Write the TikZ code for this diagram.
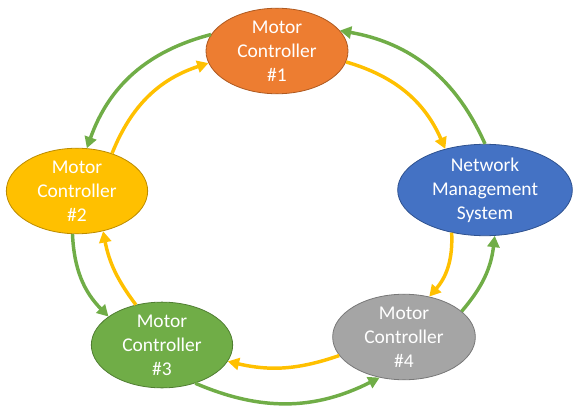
\documentclass[tikz,border=0pt]{standalone}
\usepackage{fontspec}
\setmainfont{Carlito}
\usetikzlibrary{shapes.geometric,arrows.meta}
\definecolor{cOrange}{HTML}{ED7D31}
\definecolor{cOrangeB}{HTML}{AE5A21}
\definecolor{cYellow}{HTML}{FFC000}
\definecolor{cYellowB}{HTML}{BC8C00}
\definecolor{cBlue}{HTML}{4472C4}
\definecolor{cBlueB}{HTML}{2F528F}
\definecolor{cGreen}{HTML}{70AD47}
\definecolor{cGreenB}{HTML}{507E32}
\definecolor{cGray}{HTML}{A5A5A5}
\definecolor{cGrayB}{HTML}{787878}
\tikzset{
  unit/.style={ellipse, draw, line width=0.6pt, inner sep=0pt, minimum height=57pt,
    text=white, align=center, font=\fontsize{14.6}{18}\selectfont},
  garrow/.style={draw=cGreen, line width=2.6pt, -{Triangle[length=8.5pt,width=9pt]}},
  yarrow/.style={draw=cYellow, line width=2.6pt, -{Triangle[length=8.5pt,width=9pt]}},
}
\begin{document}
\begin{tikzpicture}[x=0.75pt,y=-0.75pt]
\useasboundingbox (0,0) rectangle (585,417);
\node[unit, fill=cOrange, draw=cOrangeB, minimum width=106.5pt] (mc1) at (277,51) {Motor\\Controller\\\#1};
\node[unit, fill=cYellow, draw=cYellowB, minimum width=106pt] (mc2) at (77,191) {Motor\\Controller\\\#2};
\node[unit, fill=cBlue, draw=cBlueB, minimum width=131pt] (nms) at (485,190) {Network\\Management\\System};
\node[unit, fill=cGreen, draw=cGreenB, minimum width=106pt] (mc3) at (162,345) {Motor\\Controller\\\#3};
\node[unit, fill=cGray, draw=cGrayB, minimum width=107pt] (mc4) at (404,337) {Motor\\Controller\\\#4};

\draw[garrow] (mc1.166) to[bend right=28] (mc2.77);
\draw[yarrow] (mc2.47) to[bend left=25] (mc1.190);
\draw[yarrow] (mc1.351) to[bend left=25] (nms.134);
\draw[garrow] (nms.90) to[bend right=28] (mc1.18);
\draw[yarrow] (nms.232) to[bend left=22] (mc4.58);
\draw[garrow] (mc4.24) to[bend right=17] (nms.282);
\draw[yarrow] (mc4.196) to[bend left=16] (mc3.346);
\draw[garrow] (mc3.311) to[bend right=25] (mc4.239);
\draw[garrow] (mc2.264) to[bend right=21] (mc3.152);
\draw[yarrow] (mc3.123) to[bend left=13] (mc2.303);
\end{tikzpicture}
\end{document}
